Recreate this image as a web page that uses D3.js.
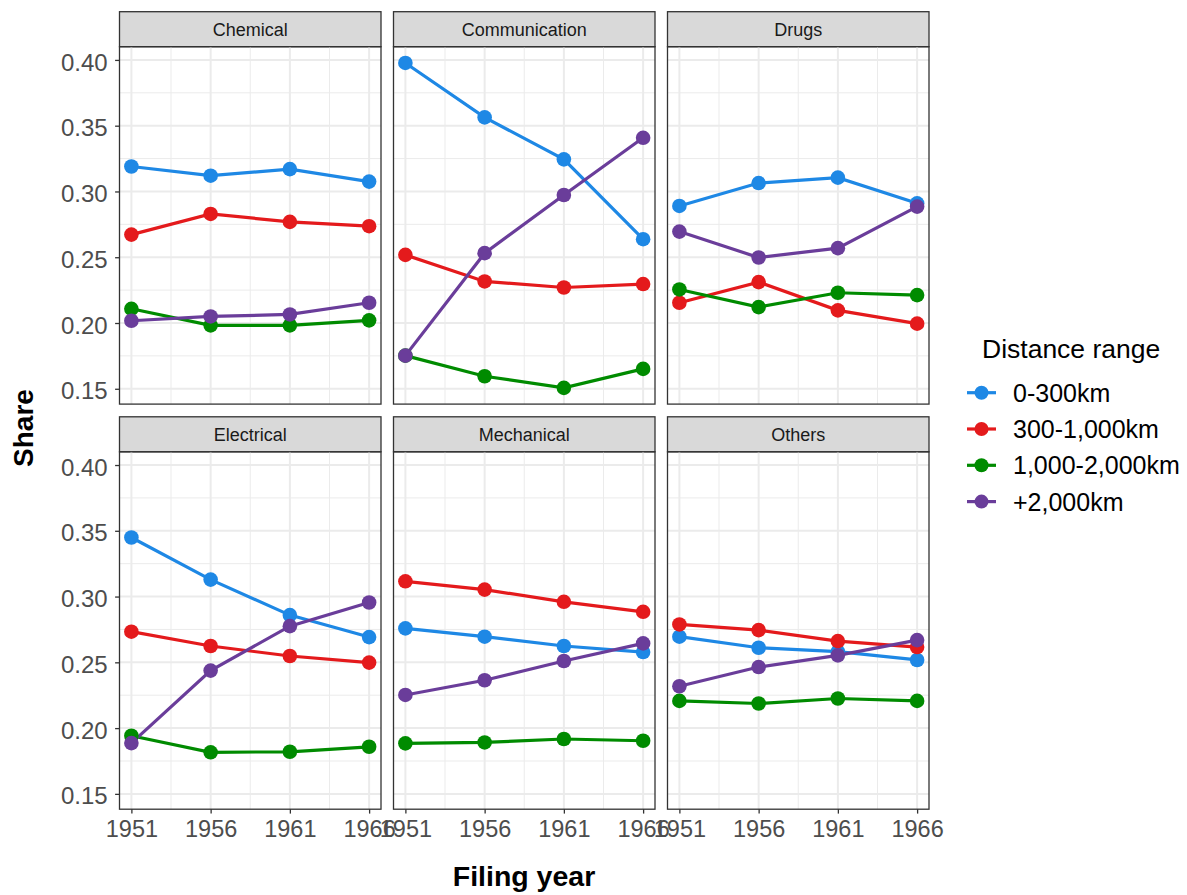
<!DOCTYPE html>
<html>
<head>
<meta charset="utf-8">
<script src="https://cdn.jsdelivr.net/npm/d3@7"></script>
<style>
  body { margin: 0; background: #fff; }
  svg { display: block; font-family: "Liberation Sans", Arial, sans-serif; }
</style>
</head>
<body>
<div id="chart"></div>
<script>
// Data
var years = [1951, 1956, 1961, 1966];
var sectors = ["Chemical", "Communication", "Drugs", "Electrical", "Mechanical", "Others"];
var ranges = ["0-300km", "300-1,000km", "1,000-2,000km", "+2,000km"];
var colors = ["#1E88E5", "#E41A1C", "#008B00", "#6A3D9A"];
var yTicks = [0.15, 0.20, 0.25, 0.30, 0.35, 0.40];

// one row per distance range, same order as `ranges`
var chemical = [
	[0.319, 0.312, 0.317, 0.3075],
	[0.2672, 0.2829, 0.2769, 0.2736],
	[0.2108, 0.1982, 0.1982, 0.2020],
	[0.2017, 0.2050, 0.2065, 0.2154]
];
var communication = [
	[0.3977, 0.3563, 0.3244, 0.2637],
	[0.2518, 0.2316, 0.2270, 0.2296],
	[0.1752, 0.1595, 0.1507, 0.1651],
	[0.1752, 0.2531, 0.2973, 0.3408]
];
var drugs = [
	[0.2890, 0.3064, 0.3105, 0.2910],
	[0.2154, 0.2311, 0.2096, 0.1995],
	[0.2255, 0.2121, 0.2230, 0.2212],
	[0.2695, 0.2498, 0.2569, 0.2885]
];
var electrical = [
	[0.3449, 0.3129, 0.2859, 0.2692],
	[0.2733, 0.2624, 0.2548, 0.2498],
	[0.1942, 0.1816, 0.1820, 0.1858],
	[0.1886, 0.2437, 0.2775, 0.2955]
];
var mechanical = [
	[0.2758, 0.2695, 0.2624, 0.2578],
	[0.3116, 0.3053, 0.2960, 0.2884],
	[0.1884, 0.1891, 0.1917, 0.1904],
	[0.2252, 0.2364, 0.2510, 0.2644]
];
var others = [
	[0.2695, 0.2611, 0.2581, 0.2518],
	[0.2788, 0.2745, 0.2661, 0.2616],
	[0.2207, 0.2187, 0.2225, 0.2207],
	[0.2318, 0.2464, 0.2553, 0.2669]
];
var sectorValues = [chemical, communication, drugs, electrical, mechanical, others];

var width = 1187, height = 895;
var left0 = 119.5, top0 = 11.7;
var panelW = 261.5, panelH = 357.4, stripH = 35;
var gapX = 12.5, gapY = 12.7;

var svg = d3.select("#chart").append("svg")
	.attr("width", width)
	.attr("height", height);

// scales with ggplot's 5% expansion
var yr = d3.extent(years);
var padX = (yr[1] - yr[0]) * 0.05;
var x = d3.scaleLinear().domain([yr[0] - padX, yr[1] + padX]).range([0, panelW]);

var allVals = sectorValues.flat(2);
var ymin = d3.min(allVals), ymax = d3.max(allVals);
var padY = (ymax - ymin) * 0.05;
var y = d3.scaleLinear().domain([ymin - padY, ymax + padY]).range([panelH, 0]);

var xMinor = years.slice(1).map(function(d, i) { return (d + years[i]) / 2; });
var yMinor = yTicks.slice(1).map(function(d, i) { return (d + yTicks[i]) / 2; });

var line = d3.line()
	.x(function(d) { return x(d.year); })
	.y(function(d) { return y(d.value); });

sectors.forEach(function(name, k) {
	var col = k % 3, row = Math.floor(k / 3);
	var px = left0 + col * (panelW + gapX);
	var py = top0 + row * (stripH + panelH + gapY);

	// strip
	svg.append("rect")
		.attr("x", px).attr("y", py)
		.attr("width", panelW).attr("height", stripH)
		.attr("fill", "#d9d9d9")
		.attr("stroke", "#333333").attr("stroke-width", 1.3);
	svg.append("text")
		.attr("x", px + panelW / 2).attr("y", py + stripH / 2 + 7)
		.attr("text-anchor", "middle")
		.attr("font-size", 18)
		.attr("fill", "#1a1a1a")
		.text(name);

	var g = svg.append("g").attr("transform", "translate(" + px + "," + (py + stripH) + ")");

	// grid
	g.selectAll(".ymin").data(yMinor).enter().append("line")
		.attr("x1", 0).attr("x2", panelW)
		.attr("y1", function(d) { return y(d); }).attr("y2", function(d) { return y(d); })
		.attr("stroke", "#ebebeb").attr("stroke-width", 1);
	g.selectAll(".xmin").data(xMinor).enter().append("line")
		.attr("y1", 0).attr("y2", panelH)
		.attr("x1", function(d) { return x(d); }).attr("x2", function(d) { return x(d); })
		.attr("stroke", "#ebebeb").attr("stroke-width", 1);
	g.selectAll(".ymaj").data(yTicks).enter().append("line")
		.attr("x1", 0).attr("x2", panelW)
		.attr("y1", function(d) { return y(d); }).attr("y2", function(d) { return y(d); })
		.attr("stroke", "#ebebeb").attr("stroke-width", 2);
	g.selectAll(".xmaj").data(years).enter().append("line")
		.attr("y1", 0).attr("y2", panelH)
		.attr("x1", function(d) { return x(d); }).attr("x2", function(d) { return x(d); })
		.attr("stroke", "#ebebeb").attr("stroke-width", 2);

	var series = sectorValues[k].map(function(vals, i) {
		return {
			idx: i,
			points: vals.map(function(v, j) { return { year: years[j], value: v }; })
		};
	});

	g.selectAll(".series").data(series).enter().append("path")
		.attr("d", function(d) { return line(d.points); })
		.attr("fill", "none")
		.attr("stroke", function(d) { return colors[d.idx]; })
		.attr("stroke-width", 3.2);

	series.forEach(function(s) {
		g.selectAll(".pt" + s.idx).data(s.points).enter().append("circle")
			.attr("cx", function(d) { return x(d.year); })
			.attr("cy", function(d) { return y(d.value); })
			.attr("r", 7.3)
			.attr("fill", colors[s.idx]);
	});

	// panel border
	g.append("rect")
		.attr("width", panelW).attr("height", panelH)
		.attr("fill", "none")
		.attr("stroke", "#333333").attr("stroke-width", 1.3);

	// axes only on outer panels
	if (col === 0) {
		var ya = g.append("g").call(d3.axisLeft(y).tickValues(yTicks).tickSize(4.4).tickPadding(7.4).tickFormat(d3.format(".2f")));
		ya.select(".domain").remove();
		ya.selectAll("line").attr("stroke", "#333333").attr("stroke-width", 1.3);
		ya.selectAll("text")
			.attr("font-size", 24).attr("fill", "#4d4d4d")
			.attr("font-family", "Liberation Sans, Arial, sans-serif")
			.attr("dy", "0.42em");
	}
	if (row === 1) {
		var xa = g.append("g").attr("transform", "translate(0," + panelH + ")")
			.call(d3.axisBottom(x).tickValues(years).tickSize(4.4).tickFormat(d3.format("d")));
		xa.select(".domain").remove();
		xa.selectAll("line").attr("stroke", "#333333").attr("stroke-width", 1.3);
		xa.selectAll("text")
			.attr("font-size", 23.5).attr("fill", "#4d4d4d")
			.attr("font-family", "Liberation Sans, Arial, sans-serif")
			.attr("y", 27.5).attr("dy", 0);
	}
});

// axis titles
svg.append("text")
	.attr("transform", "translate(33,428) rotate(-90)")
	.attr("text-anchor", "middle")
	.attr("font-size", 28).attr("font-weight", "bold")
	.text("Share");
svg.append("text")
	.attr("x", 524).attr("y", 886)
	.attr("text-anchor", "middle")
	.attr("font-size", 28.5).attr("font-weight", "bold")
	.text("Filing year");

// legend
var leg = svg.append("g").attr("transform", "translate(967,0)");
leg.append("text")
	.attr("x", 15).attr("y", 358)
	.attr("font-size", 26.5)
	.text("Distance range");
var items = leg.selectAll(".item").data(ranges).enter().append("g")
	.attr("transform", function(d, i) { return "translate(0," + (392.7 + i * 36.3) + ")"; });
items.append("line")
	.attr("x1", 0).attr("x2", 29)
	.attr("stroke", function(d, i) { return colors[i]; })
	.attr("stroke-width", 3.2);
items.append("circle")
	.attr("cx", 14.5).attr("r", 7)
	.attr("fill", function(d, i) { return colors[i]; });
items.append("text")
	.attr("x", 46).attr("y", 9)
	.attr("font-size", 25)
	.text(function(d) { return d; });
</script>
</body>
</html>
